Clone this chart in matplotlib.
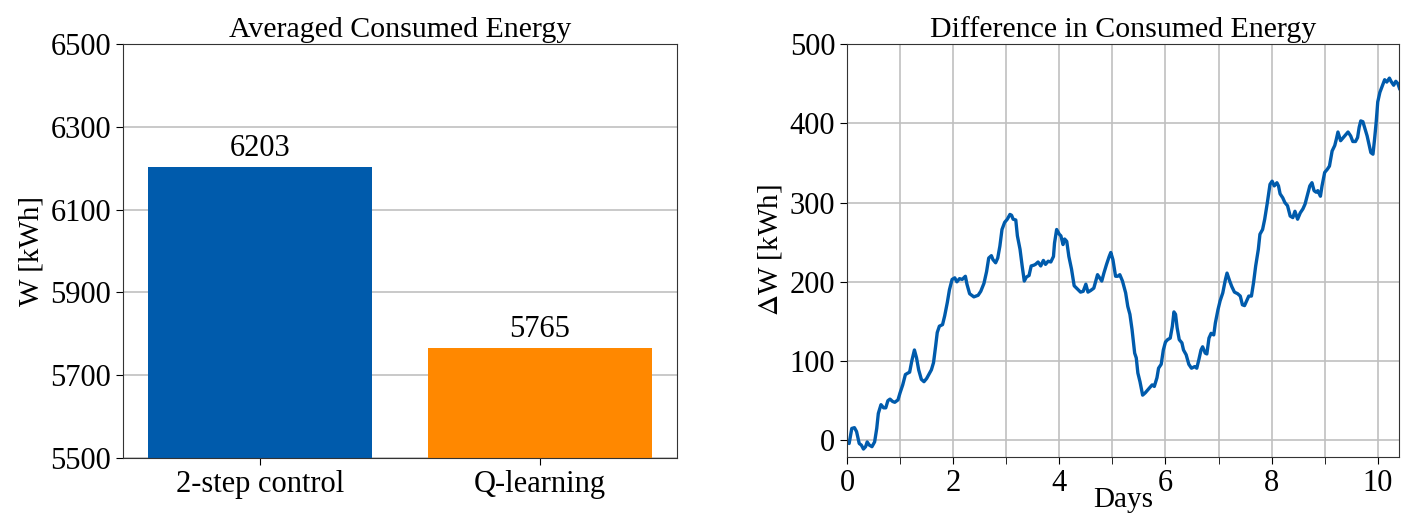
import numpy as np
import matplotlib.pyplot as plt

plt.rcParams['font.family'] = ['Liberation Serif', 'DejaVu Serif']
plt.rcParams['mathtext.fontset'] = 'stix'

# bar chart data
methods = ["2-step control", "Q-learning"]
energy = [6203, 5765]
bar_colors = ["#005bac", "#ff8800"]

# difference curve (days, kWh)
days = [0.00, 0.04, 0.09, 0.14, 0.18, 0.23, 0.27, 0.31, 0.35, 0.38, 0.42, 0.47,
        0.52, 0.56, 0.59, 0.64, 0.69, 0.73, 0.77, 0.81, 0.86, 0.90, 0.96, 1.00,
        1.05, 1.10, 1.15, 1.18, 1.22, 1.27, 1.31, 1.35, 1.40, 1.45, 1.50, 1.54,
        1.59, 1.63, 1.67, 1.70, 1.74, 1.80, 1.84, 1.89, 1.93, 1.98, 2.03, 2.07,
        2.12, 2.17, 2.23, 2.26, 2.31, 2.39, 2.47, 2.52, 2.58, 2.63, 2.67, 2.72,
        2.75, 2.80, 2.84, 2.88, 2.92, 2.97, 3.02, 3.07, 3.10, 3.13, 3.18, 3.21,
        3.26, 3.30, 3.34, 3.38, 3.43, 3.47, 3.52, 3.55, 3.60, 3.65, 3.70, 3.74,
        3.79, 3.84, 3.89, 3.91, 3.95, 4.00, 4.03, 4.07, 4.10, 4.14, 4.18, 4.23,
        4.28, 4.34, 4.40, 4.45, 4.50, 4.54, 4.59, 4.65, 4.72, 4.76, 4.80, 4.84,
        4.89, 4.94, 4.97, 5.01, 5.06, 5.10, 5.14, 5.19, 5.25, 5.29, 5.33, 5.37,
        5.42, 5.45, 5.48, 5.52, 5.57, 5.62, 5.67, 5.71, 5.75, 5.79, 5.84, 5.87,
        5.92, 5.96, 6.00, 6.04, 6.09, 6.13, 6.16, 6.19, 6.22, 6.26, 6.31, 6.34,
        6.39, 6.44, 6.49, 6.55, 6.59, 6.63, 6.67, 6.70, 6.75, 6.78, 6.82, 6.86,
        6.91, 6.94, 6.99, 7.03, 7.08, 7.13, 7.16, 7.21, 7.25, 7.30, 7.36, 7.41,
        7.45, 7.49, 7.53, 7.57, 7.62, 7.66, 7.70, 7.75, 7.78, 7.83, 7.87, 7.92,
        7.97, 8.01, 8.05, 8.10, 8.13, 8.16, 8.21, 8.25, 8.30, 8.35, 8.40, 8.44,
        8.49, 8.54, 8.59, 8.63, 8.68, 8.72, 8.76, 8.80, 8.84, 8.87, 8.92, 8.95,
        9.00, 9.05, 9.09, 9.14, 9.19, 9.22, 9.25, 9.30, 9.35, 9.39, 9.44, 9.49,
        9.53, 9.58, 9.62, 9.65, 9.68, 9.72, 9.76, 9.80, 9.84, 9.87, 9.91, 9.94,
        9.97, 10.00, 10.04, 10.09, 10.13, 10.17, 10.22, 10.25, 10.30, 10.34,
        10.38, 10.41]
delta_w = [-2, -4, 15, 16, 11, -4, -6, -11, -8, -2, -6, -8,
           -2, 15, 34, 45, 41, 41, 50, 52, 49, 48, 51, 60,
           70, 83, 85, 86, 100, 114, 104, 89, 77, 74, 78, 83,
           89, 98, 119, 136, 144, 146, 157, 174, 190, 203, 205, 200,
           204, 203, 207, 197, 185, 181, 183, 188, 198, 213, 230, 233,
           228, 224, 230, 245, 266, 275, 279, 285, 284, 279, 278, 258,
           241, 220, 201, 206, 208, 220, 221, 222, 225, 220, 227, 222,
           226, 225, 232, 249, 266, 260, 258, 247, 254, 251, 232, 216,
           195, 191, 187, 188, 197, 187, 189, 192, 209, 205, 201, 211,
           222, 232, 237, 228, 207, 207, 209, 201, 186, 169, 159, 140,
           110, 104, 85, 74, 57, 60, 64, 67, 70, 68, 79, 91,
           96, 114, 124, 127, 129, 144, 162, 159, 142, 127, 123, 114,
           108, 96, 91, 93, 91, 102, 114, 118, 110, 109, 129, 135,
           133, 148, 165, 176, 186, 203, 211, 201, 194, 187, 185, 182,
           171, 170, 176, 182, 182, 199, 220, 241, 260, 266, 279, 300,
           323, 327, 321, 325, 321, 311, 306, 300, 296, 283, 281, 289,
           279, 287, 292, 298, 311, 321, 325, 315, 313, 315, 308, 321,
           338, 342, 346, 365, 372, 380, 389, 378, 382, 385, 389, 384,
           377, 377, 382, 395, 403, 402, 393, 384, 372, 363, 361, 380,
           401, 427, 439, 448, 455, 452, 457, 453, 448, 453,
           450, 444]

fig = plt.figure(figsize=(14.07, 5.18), dpi=100)
ax1 = fig.add_axes([0.0874, 0.1158, 0.3938, 0.7992])
ax2 = fig.add_axes([0.602, 0.1178, 0.3923, 0.7972])

# left: averaged consumed energy
x = np.arange(len(methods))
ax1.set_axisbelow(True)
ax1.yaxis.grid(True, color="#c0c0c0", linewidth=1.2)
bars = ax1.bar(x, energy, width=0.8, color=bar_colors)
for b, v in zip(bars, energy):
    ax1.text(b.get_x() + b.get_width() / 2, v + 10, str(v),
             ha="center", va="bottom", fontsize=22)
ax1.set_ylim(5500, 6500)
ax1.set_yticks(np.arange(5500, 6501, 200))
ax1.set_xticks(x)
ax1.set_xticklabels(methods)
ax1.set_ylabel("W [kWh]", fontsize=21)
ax1.set_title("Averaged Consumed Energy", fontsize=21.5, pad=5)
ax1.tick_params(labelsize=22, length=5, colors="black")
for s in ax1.spines.values():
    s.set_color("#333333")

# right: difference in consumed energy
ax2.plot(days, delta_w, color="#005bac", linewidth=2.4)
ax2.set_xlim(0, 10.4)
ax2.set_ylim(-21, 500)
ax2.set_xticks(np.arange(0, 11, 2))
ax2.set_xticks(np.arange(1, 11, 2), minor=True)
ax2.set_yticks(np.arange(0, 501, 100))
ax2.grid(True, which="both", color="#c0c0c0", linewidth=1.2)
ax2.set_axisbelow(True)
ax2.set_xlabel("Days", fontsize=21, labelpad=-8)
ax2.set_ylabel(r"$\Delta$W [kWh]", fontsize=21)
ax2.set_title("Difference in Consumed Energy", fontsize=21.5, pad=5)
ax2.tick_params(labelsize=22, length=5)
ax2.tick_params(which="minor", length=5)
for s in ax2.spines.values():
    s.set_color("#333333")

fig.savefig("out.png", dpi=100)
